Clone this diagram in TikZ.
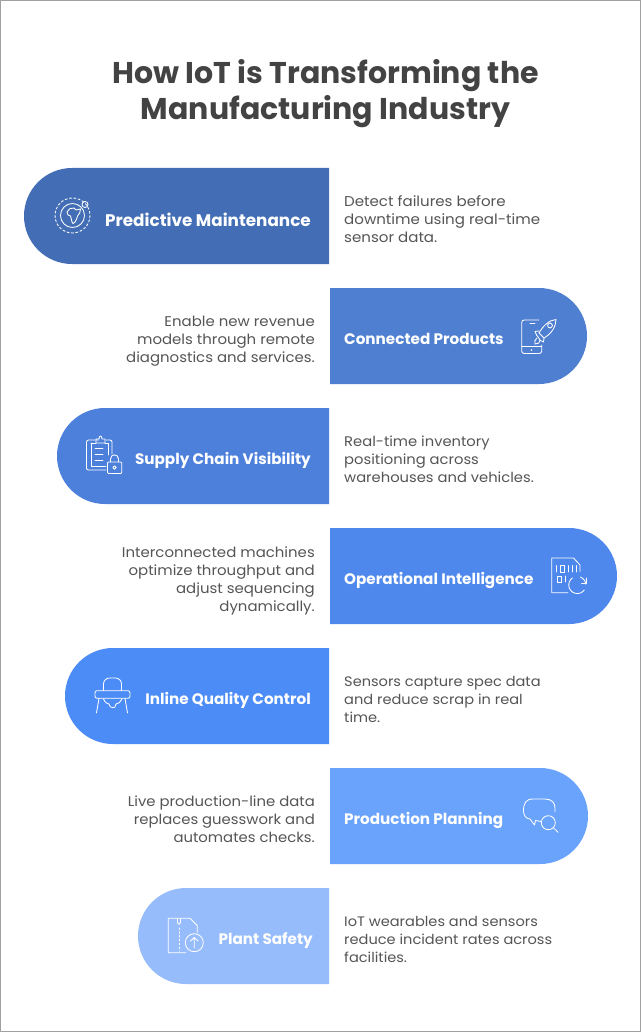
\documentclass[tikz,border=0pt]{standalone}
\usepackage{fontspec}
\setmainfont{Poppins}
\newfontfamily\stretched[FakeStretch=1.06]{Poppins}
\definecolor{titlec}{HTML}{434343}
\definecolor{bodyc}{HTML}{555555}
\definecolor{frame}{HTML}{A0A0A0}
\definecolor{barA}{HTML}{436EB5}
\definecolor{barB}{HTML}{4F7FD0}
\definecolor{barC}{HTML}{4D80DB}
\definecolor{barD}{HTML}{4F88EC}
\definecolor{barE}{HTML}{4B8CF7}
\definecolor{barF}{HTML}{6AA3FB}
\definecolor{barG}{HTML}{97BCFB}
\tikzset{
  titletext/.style={text=titlec,font=\fontsize{30}{36}\selectfont\bfseries,align=center,inner sep=0pt},
  labeltext/.style={text=white,font=\fontsize{15.2}{18}\selectfont\bfseries,inner sep=0pt},
  bodyleft/.style={text=bodyc,font=\stretched\fontsize{#1}{18}\selectfont,align=left,anchor=west,inner sep=0pt},
  bodyright/.style={text=bodyc,font=\stretched\fontsize{#1}{18}\selectfont,align=right,anchor=east,inner sep=0pt},
  icon/.style={draw=white,line width=0.85pt,line cap=round,line join=round,fill=none},
  pill/.style={rounded corners=48pt},
}
\begin{document}
\begin{tikzpicture}[x=1pt,y=-1pt]
\useasboundingbox (0,0) rectangle (641,1032);
\fill[white] (0,0) rectangle (641,1032);
\draw[frame,line width=1pt] (0.5,0.5) rectangle (640.5,1031.5);

\node[titletext] (title) at (325.5,94) {How IoT is Transforming the\\Manufacturing Industry};

% bars
\fill[barA] (329,168) [pill] -- (24,168) -- (24,264) [sharp corners] -- (329,264) -- cycle;
\fill[barB] (330,288) [pill] -- (587,288) -- (587,384) [sharp corners] -- (330,384) -- cycle;
\fill[barC] (329,408) [pill] -- (57,408) -- (57,504) [sharp corners] -- (329,504) -- cycle;
\fill[barD] (330,528) [pill] -- (617,528) -- (617,624) [sharp corners] -- (330,624) -- cycle;
\fill[barE] (329,648) [pill] -- (65,648) -- (65,744) [sharp corners] -- (329,744) -- cycle;
\fill[barF] (330,768) [pill] -- (588,768) -- (588,864) [sharp corners] -- (330,864) -- cycle;
\fill[barG] (329,888) [pill] -- (138,888) -- (138,984) [sharp corners] -- (329,984) -- cycle;

% labels
\node[labeltext,anchor=base east,font=\fontsize{16.8}{18}\selectfont\bfseries] (lab1) at (311,226) {Predictive Maintenance};
\node[labeltext,anchor=base west] (lab2) at (344,344) {Connected Products};
\node[labeltext,anchor=base east] (lab3) at (311,464) {Supply Chain Visibility};
\node[labeltext,anchor=base west] (lab4) at (344,584) {Operational Intelligence};
\node[labeltext,anchor=base east] (lab5) at (311,704) {Inline Quality Control};
\node[labeltext,anchor=base west] (lab6) at (344,824) {Production Planning};
\node[labeltext,anchor=base east] (lab7) at (313,944) {Plant Safety};

% body
\node[bodyleft=14.2] (txt1) at (344,219) {Detect failures before\\downtime using real-time\\sensor data.};
\node[bodyright=14.1] (txt2) at (315,341) {Enable new revenue\\models through remote\\diagnostics and services.};
\node[bodyleft=13.9] (txt3) at (344,459) {Real-time inventory\\positioning across\\warehouses and vehicles.};
\node[bodyright=14.1] (txt4) at (315,581) {Interconnected machines\\optimize throughput and\\adjust sequencing\\dynamically.};
\node[bodyleft=13.75] (txt5) at (344,699) {Sensors capture spec data\\and reduce scrap in real\\time.};
\node[bodyright=14] (txt6) at (315,819) {Live production-line data\\replaces guesswork and\\automates checks.};
\node[bodyleft=13.75] (txt7) at (344,939) {IoT wearables and sensors\\reduce incident rates across\\facilities.};

% icon 1: globe
\draw[icon,dash pattern=on 2.2pt off 2.2pt] (72.5,215.5) circle[radius=17.5];
\draw[icon] (72.5,215.5) circle[radius=12];
\draw[icon] (85,204.5) circle[radius=3];
\draw[icon] (67,212) .. controls (68,209) and (71,207.5) .. (74,208) -- (76,210) -- (80.5,209) .. controls (81,212) and (79,214) .. (77.5,216) .. controls (77,219) and (75,223) .. (73,223.5) .. controls (71,222) and (72,218) .. (70.5,216) .. controls (68.5,216) and (67,214.5) .. (67,212) -- cycle;

% icon 2: phone + rocket
\draw[icon,rounded corners=2.5pt] (539,320) -- (521.7,320) -- (521.7,353.5) -- (541.7,353.5) -- (541.7,345);
\draw[icon] (521.7,346.5) -- (541.7,346.5);
\draw[icon] (530,323.5) -- (535,323.5);
\fill[white] (531.5,350) circle[radius=0.8];
\draw[icon] (556,319.5) .. controls (549,320) and (543,326) .. (539,333) -- (544,338) .. controls (551,334) and (556,327) .. (556,319.5) -- cycle;
\draw[icon] (550,325.5) circle[radius=2.4];
\draw[icon] (539,331) -- (535,331.5) -- (537,336) (544,338) -- (543.5,342) -- (539.5,340);
\draw[icon] (537.5,336) -- (540,340) (537,338) .. controls (535,339) and (534,342) .. (535,344) .. controls (538,344) and (540,343) .. (540,340.5);

% icon 3: clipboard + lock
\draw[icon,rounded corners=2pt] (99,440) -- (86.5,440) -- (86.5,470) -- (106,470);
\draw[icon,rounded corners=2pt] (106,440) -- (112,440) -- (112,454);
\draw[icon] (91,443) -- (91,466.5) -- (106,466.5);
\draw[icon] (96,443) -- (96,439) -- (99,439) .. controls (99,435) and (102,435) .. (102,439) -- (105,439) -- (105,443) -- cycle;
\draw[icon] (91,443) -- (96,443) (105,443) -- (108,443) -- (108,455);
\draw[icon] (95,448) -- (103,448) (95,454) -- (103,454) (95,460) -- (103,460);
\draw[icon,rounded corners=1pt] (107.5,462) rectangle (121.7,473.5);
\draw[icon] (110.5,462) -- (110.5,459) .. controls (110.5,453.5) and (118.5,453.5) .. (118.5,459) -- (118.5,462);
\draw[icon] (114.5,467.5) circle[radius=1.7];

% icon 4: binary doc
\draw[icon] (568,592.7) -- (551.7,592.7) -- (551.7,558) -- (573.5,558) -- (580,565) -- (580,571.5);
\draw[icon] (556.5,565.5) -- (556.5,572) (560.5,565.5) rectangle (564,572) (568,565.5) -- (568,572) (572,565.5) -- (572,572) (576,565.5) -- (576,572);
\draw[icon] (557,576) rectangle (561,582) (565,576) -- (565,582);
\draw[icon] plot[domain=35:235,samples=30,smooth] ({577.3+8.5*cos(\x)},{585+8.5*sin(\x)});
\draw[icon] plot[domain=-70:-5,samples=15,smooth] ({577.3+8.5*cos(\x)},{585+8.5*sin(\x)});
\draw[icon] (586.5,578) -- (586.5,583) -- (581.5,583);

% icon 5: high chair
\draw[icon,rounded corners=6pt] (103.5,690.5) -- (103.5,678) -- (121.5,678) -- (121.5,690.5);
\draw[icon,rounded corners=2pt] (95,690.7) rectangle (130,698.3);
\draw[icon] (99,698.3) -- (96.5,713) (125,698.3) -- (127.5,713);
\draw[icon] (103.5,699) .. controls (105,703) and (108,704) .. (109,704) .. controls (109,708) and (116,710) .. (116,704) .. controls (118,704) and (121,702) .. (122,699);

% icon 6: chat + search
\draw[icon] (541,821.5) -- (535.5,820.5) -- (534.5,825) -- (530,819) .. controls (526,819) and (523.5,815) .. (523.5,811) .. controls (523.5,803) and (526,799) .. (533,799) -- (545,799) .. controls (552,799) and (555,803) .. (555,808) -- (555,812);
\draw[icon] (548.3,822.7) circle[radius=7];
\draw[icon] (553.3,827.7) -- (558,832.3);

% icon 7: zip doc + upload
\draw[icon] (186,952.7) -- (168.3,952.7) -- (168.3,918.3) -- (190,918.3) -- (197.3,925.5) -- (197.3,932.5);
\draw[icon] (177.5,918.5) -- (177.5,922.5) .. controls (177.5,925) and (180.5,925) .. (180.5,922.5) -- (180.5,918.5);
\draw[icon,dash pattern=on 1.5pt off 2.3pt] (179,928) -- (179,951);
\draw[icon] (194.3,942.7) circle[radius=9];
\draw[icon] (194.3,948) -- (194.3,937.5) (190.5,941) -- (194.3,937.5) -- (198,941);
\end{tikzpicture}
\end{document}
